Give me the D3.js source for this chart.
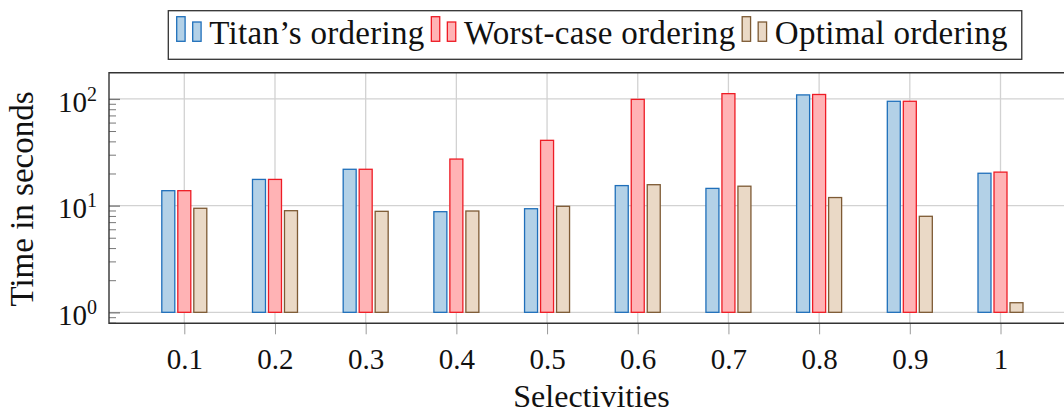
<!DOCTYPE html>
<html>
<head>
<meta charset="utf-8">
<script src="https://cdn.jsdelivr.net/npm/d3@7"></script>
<style>
body{margin:0;background:#fff;}
text{font-family:"Liberation Serif","DejaVu Serif",serif;fill:#111;}
</style>
</head>
<body>
<svg id="chart" width="1064" height="413"></svg>
<script>
// data
var selectivities = [0.1,0.2,0.3,0.4,0.5,0.6,0.7,0.8,0.9,1];
var selLabels = ["0.1","0.2","0.3","0.4","0.5","0.6","0.7","0.8","0.9","1"];
var titanTimes = [13.8,17.6,21.9,8.77,9.35,15.4,14.5,109,95,20.1];
var worstTimes = [13.8,17.6,21.9,27.3,40.9,99,112,110,95,20.6];
var optimalTimes = [9.44,8.96,8.84,8.9,9.85,15.7,15.2,11.9,7.94,1.23];
var seriesNames = ["Titan\u2019s ordering","Worst-case ordering","Optimal ordering"];
var strokeCols = ["#1f6fba","#ee1c25","#7d5a34"];
var fillCols = ["#b3d1e7","#ffb3b5","#ead9c6"];
var yMajor = [1,10,100];

var svg = d3.select("#chart");
var pLeft = 109, pTop = 72.7, pBottom = 323.3, pRight = 1090;

var x = d3.scaleLinear().domain([0.1,1]).range([184.3,1000.5]);
var y = d3.scaleLog().domain([0.789,176]).range([pBottom,pTop]);

// grid
svg.append("g").selectAll("line").data(selectivities).enter().append("line")
	.attr("x1",function(d){return x(d);}).attr("x2",function(d){return x(d);})
	.attr("y1",pTop).attr("y2",pBottom)
	.attr("stroke","#d2d2d2").attr("stroke-width",1.3);
svg.append("g").selectAll("line").data(yMajor).enter().append("line")
	.attr("x1",pLeft).attr("x2",pRight)
	.attr("y1",function(d){return y(d);}).attr("y2",function(d){return y(d);})
	.attr("stroke","#d2d2d2").attr("stroke-width",1.3);

// bars
var allSeries = [titanTimes,worstTimes,optimalTimes];
var offsets = [-16,0,16];
var bw = 13;
allSeries.forEach(function(vals,s){
	svg.append("g").selectAll("rect").data(vals).enter().append("rect")
		.attr("x",function(d,i){return x(selectivities[i])+offsets[s]-bw/2;})
		.attr("y",function(d){return y(d);})
		.attr("width",bw)
		.attr("height",function(d){return y(1)-y(d);})
		.attr("fill",fillCols[s])
		.attr("stroke",strokeCols[s])
		.attr("stroke-width",1.3);
});

// x axis
var xAxis = d3.axisBottom(x).tickValues(selectivities).tickSize(11).tickPadding(14)
	.tickFormat(function(d,i){return selLabels[i];});
var gx = svg.append("g").attr("transform","translate(0,"+pBottom+")").call(xAxis);
gx.select(".domain").remove();
gx.selectAll("line").attr("stroke","#9a9a9a").attr("stroke-width",1);
gx.selectAll("text").attr("font-size",29).attr("font-family","Liberation Serif").attr("fill","#111");

// y axis minor ticks
var minor = [];
[0.1,1,10,100].forEach(function(p){
	for(var k=2;k<=9;k++){
		var v=p*k;
		if(v>0.789 && v<176) minor.push(v);
	}
});
var yMinor = d3.axisLeft(y).tickValues(minor).tickSize(-7).tickFormat("");
var gym = svg.append("g").attr("transform","translate("+pLeft+",0)").call(yMinor);
gym.select(".domain").remove();
gym.selectAll("line").attr("stroke","#777").attr("stroke-width",1);

var yAxis = d3.axisLeft(y).tickValues(yMajor).tickSize(-11).tickPadding(12).tickFormat("");
var gy = svg.append("g").attr("transform","translate("+pLeft+",0)").call(yAxis);
gy.select(".domain").remove();
gy.selectAll("line").attr("stroke","#777").attr("stroke-width",1.3);
gy.selectAll(".tick text")
	.attr("font-size",29).attr("font-family","Liberation Serif").attr("fill","#111")
	.attr("x",-12).attr("dy","0.42em")
	.each(function(d){
		var t = d3.select(this);
		t.text("10");
		t.append("tspan").attr("font-size",20).attr("dy",-11).text(Math.round(Math.log10(d)));
	});

// frame
svg.append("path")
	.attr("d","M"+pRight+","+pTop+"H"+pLeft+"V"+pBottom+"H"+pRight)
	.attr("fill","none").attr("stroke","#333").attr("stroke-width",1.4);

// axis titles
svg.append("text").attr("x",(pLeft+1000)/2+37).attr("y",407)
	.attr("text-anchor","middle").attr("font-size",32).text("Selectivities");
svg.append("text").attr("transform","translate(33,199) rotate(-90)")
	.attr("text-anchor","middle").attr("font-size",33).text("Time in seconds");

// legend
var lg = svg.append("g");
var box = lg.append("rect").attr("y",10.7).attr("height",48.6)
	.attr("fill","#fff").attr("stroke","#333").attr("stroke-width",1.3);
var cx = 176.7;
seriesNames.forEach(function(name,s){
	lg.append("rect").attr("x",cx).attr("y",16.7).attr("width",8.4).attr("height",24.6)
		.attr("fill",fillCols[s]).attr("stroke",strokeCols[s]).attr("stroke-width",1.3);
	lg.append("rect").attr("x",cx+16).attr("y",22).attr("width",8.4).attr("height",19.3)
		.attr("fill",fillCols[s]).attr("stroke",strokeCols[s]).attr("stroke-width",1.3);
	var t = lg.append("text").attr("x",cx+32.6).attr("y",44).attr("font-size",33)
		.attr("letter-spacing",0.3).text(name);
	cx = cx+32.6+t.node().getComputedTextLength()+6.7;
});
box.attr("x",168.3).attr("width",cx-6.7+14-168.3);
</script>
</body>
</html>
